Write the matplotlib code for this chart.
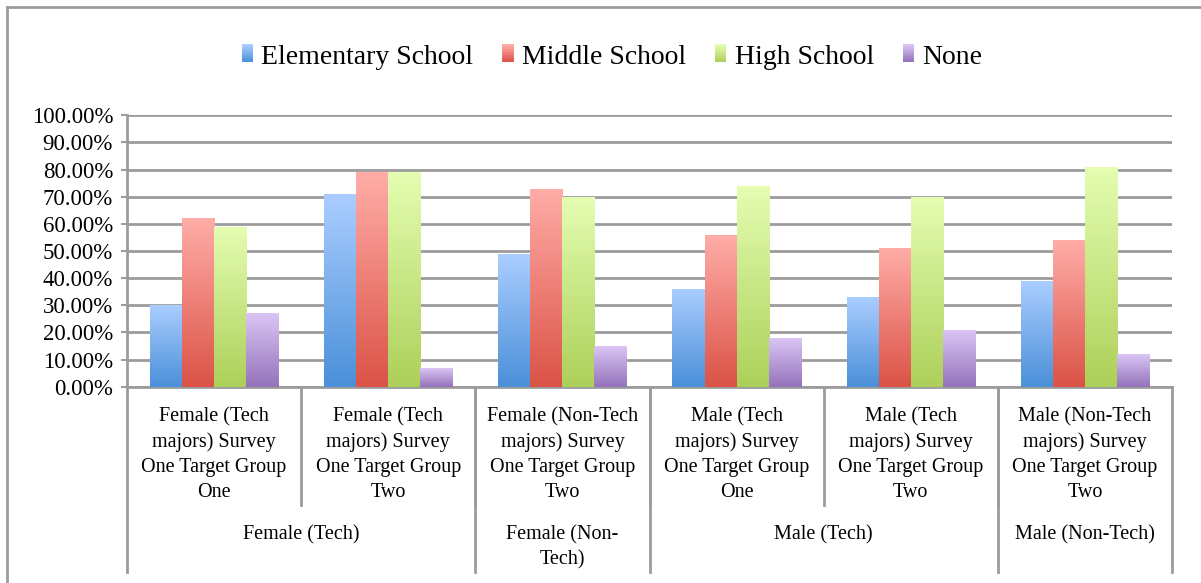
"""Education level at first exposure, grouped bar chart by survey group."""

import numpy as np
import matplotlib.pyplot as plt
from matplotlib.colors import LinearSegmentedColormap
from matplotlib.legend_handler import HandlerBase
from matplotlib.lines import Line2D
from matplotlib.patches import Rectangle
from matplotlib.ticker import FuncFormatter
from matplotlib.transforms import blended_transform_factory

plt.rcParams["font.family"] = ["Liberation Serif", "DejaVu Serif"]

categories = [
    "Female (Tech\nmajors) Survey\nOne Target Group\nOne",
    "Female (Tech\nmajors) Survey\nOne Target Group\nTwo",
    "Female (Non-Tech\nmajors) Survey\nOne Target Group\nTwo",
    "Male (Tech\nmajors) Survey\nOne Target Group\nOne",
    "Male (Tech\nmajors) Survey\nOne Target Group\nTwo",
    "Male (Non-Tech\nmajors) Survey\nOne Target Group\nTwo",
]
group_names = ["Female (Tech)", "Female (Non-\nTech)", "Male (Tech)", "Male (Non-Tech)"]
group_sizes = [2, 1, 2, 1]

series = ["Elementary School", "Middle School", "High School", "None"]
elementary = [0.30, 0.71, 0.49, 0.36, 0.33, 0.39]
middle = [0.62, 0.79, 0.73, 0.56, 0.51, 0.54]
high = [0.59, 0.79, 0.70, 0.74, 0.70, 0.81]
none = [0.27, 0.07, 0.15, 0.18, 0.21, 0.12]
values = [elementary, middle, high, none]

# (top colour, bottom colour) of each bar gradient
gradients = [
    ("#aacdff", "#4b90d9"),
    ("#ffaca7", "#db5347"),
    ("#e4fdb1", "#add05a"),
    ("#d9c5f3", "#9573bc"),
]
GRID = "#9c9c9c"


class GradientHandler(HandlerBase):
    def __init__(self, top, bottom):
        super().__init__()
        self.cmap = LinearSegmentedColormap.from_list("g", [bottom, top])

    def create_artists(self, legend, orig_handle, xdescent, ydescent,
                       width, height, fontsize, trans):
        n = 12
        w = 8
        h = 13
        x0 = -xdescent + width - w - 1
        y0 = -ydescent + (height - h) / 2 + 0.5
        out = []
        for i in range(n):
            out.append(Rectangle((x0, y0 + h * i / n), w, h / n + 0.3,
                                 facecolor=self.cmap(i / (n - 1)),
                                 edgecolor="none", transform=trans))
        return out


fig = plt.figure(figsize=(12.01, 5.83), dpi=100)
W, H = 1201, 583
ax = fig.add_axes([127 / W, 1 - 386.7 / H, (1172 - 127) / W, (386.7 - 115.3) / H])

x = np.arange(len(categories))
bar_w = 0.184
offsets = (np.arange(len(series)) - (len(series) - 1) / 2) * bar_w

for vals, off, (top, bottom) in zip(values, offsets, gradients):
    cmap = LinearSegmentedColormap.from_list("g", [bottom, top])
    bars = ax.bar(x + off, vals, bar_w, color="none", edgecolor="none", zorder=3)
    for b in bars:
        bx, by = b.get_x(), b.get_y()
        bw, bh = b.get_width(), b.get_height()
        img = ax.imshow(np.linspace(0, 1, 64).reshape(-1, 1), cmap=cmap,
                        extent=[bx, bx + bw, by, by + bh], origin="lower",
                        aspect="auto", interpolation="bilinear", zorder=3)
        img.set_clip_path(b)

ax.set_ylim(0, 1)
ax.set_xlim(-0.5, len(categories) - 0.5)

ax.set_yticks(np.arange(0, 1.01, 0.1))
ax.yaxis.set_major_formatter(FuncFormatter(lambda v, _: f"{v * 100:.2f}%"))
ax.tick_params(axis="y", length=4, width=1.5, color=GRID, pad=6, labelsize=16.5)
ax.set_xticks([])
ax.grid(axis="y", color=GRID, linewidth=2, zorder=0)
ax.set_axisbelow(True)
for s in ["top", "right"]:
    ax.spines[s].set_visible(False)
for s in ["left", "bottom"]:
    ax.spines[s].set_color(GRID)
    ax.spines[s].set_linewidth(2)

# two-level category axis below the plot
tr = blended_transform_factory(ax.transData, ax.transAxes)
inner_bottom, outer_bottom = -0.436, -0.683
for i in range(1, len(categories)):
    ax.add_line(Line2D([i - 0.5, i - 0.5], [0, inner_bottom], transform=tr,
                       color=GRID, linewidth=2, clip_on=False))
edges = np.concatenate([[0], np.cumsum(group_sizes)]) - 0.5
for e in edges:
    ax.add_line(Line2D([e, e], [0, outer_bottom], transform=tr,
                       color=GRID, linewidth=2, clip_on=False))
for i, lab in enumerate(categories):
    ax.text(i, -0.075, lab, transform=tr, ha="center", va="top",
            fontsize=14.5, linespacing=1.42)
for name, lo, hi in zip(group_names, edges[:-1], edges[1:]):
    ax.text((lo + hi) / 2, -0.51, name, transform=tr, ha="center", va="top",
            fontsize=14.5, linespacing=1.42)

handles = [Rectangle((0, 0), 1, 1) for _ in series]
ax.legend(handles, series, loc="center", bbox_to_anchor=(0.5 + 11 / W, 1 - 57 / H),
          bbox_transform=fig.transFigure, ncol=4, frameon=False, fontsize=20,
          handlelength=0.5, handletextpad=0.25, columnspacing=1.0,
          handler_map={h: GradientHandler(*g) for h, g in zip(handles, gradients)})

# outer chart frame
fig.add_artist(Line2D([7 / W, 1], [1 - 7 / H] * 2, transform=fig.transFigure,
                      color=GRID, linewidth=2))
fig.add_artist(Line2D([7 / W] * 2, [0, 1 - 7 / H], transform=fig.transFigure,
                      color=GRID, linewidth=2))

fig.savefig("out.png", dpi=100)
